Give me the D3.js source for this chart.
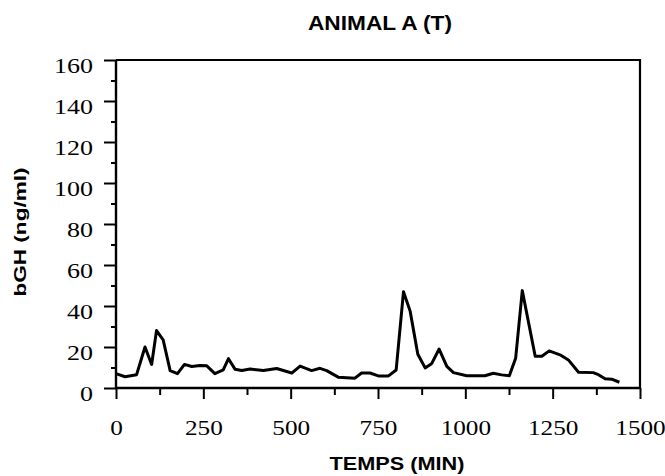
<!DOCTYPE html>
<html>
<head>
<meta charset="utf-8">
<script src="https://cdn.jsdelivr.net/npm/d3@7"></script>
<style>
  html, body { margin: 0; padding: 0; background: #fff; }
  svg { display: block; }
  .tick-label { font-family: "Liberation Serif", "DejaVu Serif", serif; font-size: 21px; fill: #000; }
  .title { font-family: "Liberation Sans", Arial, sans-serif; font-weight: bold; fill: #000; }
</style>
</head>
<body>
<script>
'use strict';

var times = [0, 26, 59, 83, 102, 116, 135, 155, 176, 196, 217, 240, 260, 283, 307, 322, 341, 360,
  384, 422, 460, 503, 527, 560, 584, 603, 636, 684, 703, 727, 751, 780, 802, 823, 842, 864, 885,
  904, 925, 947, 966, 1004, 1056, 1080, 1104, 1126, 1144, 1163, 1200, 1219, 1240, 1271, 1295,
  1324, 1366, 1381, 1400, 1419, 1441];
var bgh = [7, 5.5, 6.5, 20, 11.5, 28, 23.5, 8.5, 7, 11.5, 10.5, 11, 10.8, 7, 8.8, 14.3, 9.1, 8.5,
  9.3, 8.5, 9.5, 7.3, 10.7, 8.5, 9.6, 8.5, 5.3, 4.8, 7.3, 7.3, 5.9, 5.9, 8.8, 47, 37.5, 16.5, 9.8,
  12, 19, 10.5, 7.5, 6, 6, 7.2, 6.4, 6, 14.5, 47.5, 15.5, 15.5, 18.1, 16.2, 13.7, 7.7, 7.5, 6.5,
  4.5, 4.3, 2.8];

var xMajor = [0, 250, 500, 750, 1000, 1250, 1500];
var xMinor = [125, 375, 625, 875, 1125, 1375];
var yMajor = [0, 20, 40, 60, 80, 100, 120, 140, 160];
var yMinor = [10, 30, 50, 70, 90, 110, 130, 150];

var titleText = 'ANIMAL A (T)';
var xTitle = 'TEMPS (MIN)';
var yTitle = 'bGH (ng/ml)';

var W = 665, H = 476;
var plotL = 116, plotR = 640, plotT = 60, plotB = 388;

var x = d3.scaleLinear().domain([0, 1500]).range([plotL, plotR]);
var y = d3.scaleLinear().domain([0, 160]).range([plotB, plotT]);

var svg = d3.select('body').append('svg').attr('width', W).attr('height', H);

// frame (top and right edges)
svg.append('path')
  .attr('d', 'M' + plotL + ',' + plotT + 'H' + plotR + 'V' + plotB)
  .attr('fill', 'none').attr('stroke', '#000').attr('stroke-width', 2.2);

function styleAxis (g) {
  g.select('.domain').remove();
  g.selectAll('line').attr('stroke', '#000').attr('stroke-width', 2);
}

// x axis
svg.append('g').attr('transform', 'translate(0,' + plotB + ')')
  .call(d3.axisBottom(x).tickValues(xMinor).tickSize(7).tickFormat(''))
  .call(styleAxis);
var gx = svg.append('g').attr('transform', 'translate(0,' + plotB + ')')
  .call(d3.axisBottom(x).tickValues(xMajor).tickSize(11).tickFormat(d3.format('d')))
  .call(styleAxis);
gx.selectAll('text')
  .attr('class', 'tick-label')
  .attr('y', 47).attr('dy', null)
  .attr('textLength', function (d) { return String(d).length * 12.6; })
  .attr('lengthAdjust', 'spacingAndGlyphs');

// y axis
svg.append('g').attr('transform', 'translate(' + plotL + ',0)')
  .call(d3.axisLeft(y).tickValues(yMinor).tickSize(5).tickFormat(''))
  .call(styleAxis);
var gy = svg.append('g').attr('transform', 'translate(' + plotL + ',0)')
  .call(d3.axisLeft(y).tickValues(yMajor).tickSize(12).tickFormat(d3.format('d')))
  .call(styleAxis);
gy.selectAll('text')
  .attr('class', 'tick-label')
  .attr('x', -23).attr('dy', null).attr('y', 12)
  .attr('textLength', function (d) { return String(d).length * 13; })
  .attr('lengthAdjust', 'spacingAndGlyphs');

// axis lines
svg.append('line').attr('x1', plotL).attr('x2', plotR).attr('y1', plotB).attr('y2', plotB)
  .attr('stroke', '#000').attr('stroke-width', 2.4);
svg.append('line').attr('x1', plotL).attr('x2', plotL).attr('y1', plotT).attr('y2', plotB)
  .attr('stroke', '#000').attr('stroke-width', 2.4);

// trace
var line = d3.line()
  .x(function (d, i) { return x(times[i]); })
  .y(function (d) { return y(d); });
svg.append('path')
  .datum(bgh)
  .attr('d', line)
  .attr('fill', 'none')
  .attr('stroke', '#000')
  .attr('stroke-width', 3)
  .attr('stroke-linejoin', 'round');

// titles
svg.append('text').attr('class', 'title')
  .attr('x', 380).attr('y', 30).attr('text-anchor', 'middle')
  .style('font-size', '20px')
  .attr('textLength', 144).attr('lengthAdjust', 'spacingAndGlyphs')
  .text(titleText);
svg.append('text').attr('class', 'title')
  .attr('x', 397).attr('y', 470).attr('text-anchor', 'middle')
  .style('font-size', '18px')
  .attr('textLength', 135).attr('lengthAdjust', 'spacingAndGlyphs')
  .text(xTitle);
svg.append('text').attr('class', 'title')
  .attr('transform', 'translate(26,232) rotate(-90)')
  .attr('text-anchor', 'middle')
  .style('font-size', '16px')
  .attr('textLength', 129).attr('lengthAdjust', 'spacingAndGlyphs')
  .text(yTitle);
</script>
</body>
</html>
